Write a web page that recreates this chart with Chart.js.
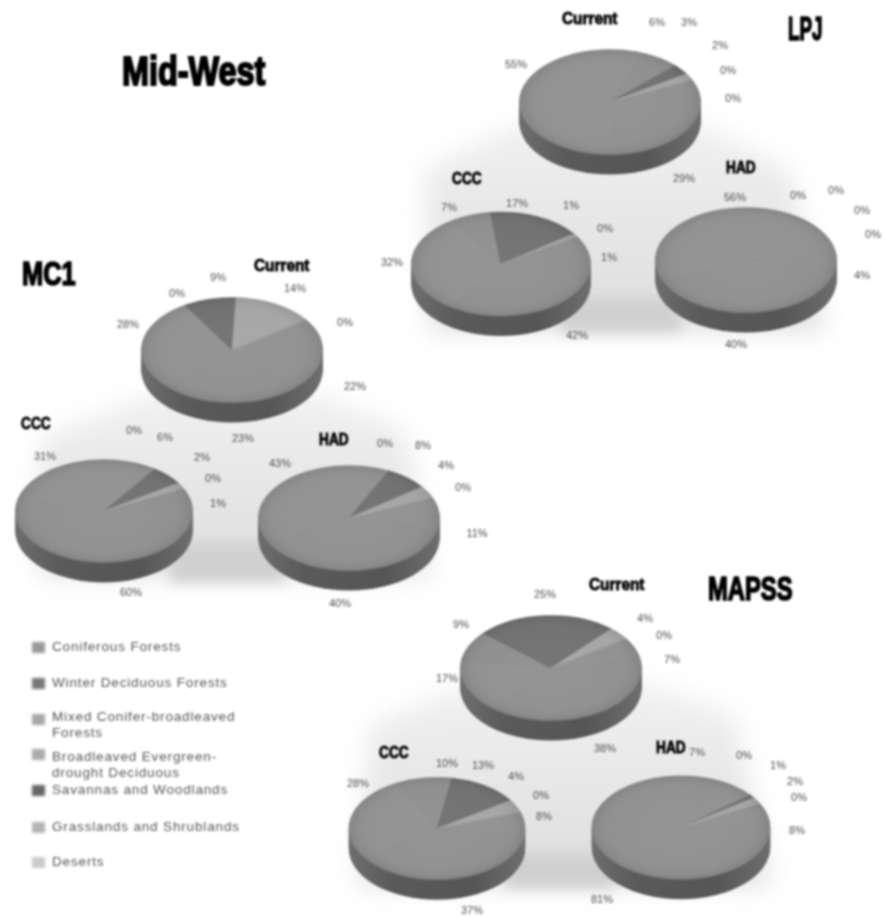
<!DOCTYPE html>
<html><head><meta charset="utf-8">
<script src="https://cdn.jsdelivr.net/npm/chart.js@4"></script>
<style>
html,body{margin:0;padding:0;background:#fff;overflow:hidden}
#stage{position:absolute;left:0;top:0;width:896px;height:917px;filter:blur(1.05px);overflow:hidden;background:#fff}
canvas{position:absolute;left:0;top:0}
.blob{position:absolute;left:0;top:0;width:896px;height:917px;filter:blur(13px)}
.blob div{position:absolute;inset:0}
.t{position:absolute;white-space:nowrap;font-family:"Liberation Sans",sans-serif;font-weight:700;color:#000;-webkit-text-stroke:.05em #000;transform-origin:0 0}
.p{position:absolute;white-space:nowrap;font:11px "Liberation Sans",sans-serif;color:#4f4f4f;transform:translate(-50%,-50%)}
.lg{position:absolute;left:52px;font:13.5px/16px "Liberation Sans",sans-serif;letter-spacing:.85px;color:#555;white-space:nowrap}
.sw{position:absolute;left:32px;width:13px;height:11px;filter:blur(1px)}
</style></head><body>
<div id="stage"></div>
<script>
const categories=["Coniferous Forests","Winter Deciduous Forests","Mixed Conifer-broadleaved Forests","Broadleaved Evergreen-drought Deciduous","Savannas and Woodlands","Grasslands and Shrublands","Deserts"];
const lpjCurrent=[0,29,55,6,3,2,0];
const lpjCCC=[1,42,32,7,17,1,0];
const lpjHAD=[4,40,56,0,0,0,0];
const mc1Current=[22,23,28,0,9,14,0];
const mc1CCC=[1,60,31,0,6,2,0];
const mc1HAD=[11,40,43,0,8,4,0];
const mapssCurrent=[7,38,17,9,25,4,0];
const mapssCCC=[8,37,28,10,13,4,0];
const mapssHAD=[8,81,7,0,1,2,0];

const sliceColors=["#8f8f8f","#8e8e8e","#8f8f8f","#8d8d8d","#6e6e6e","#a4a4a4","#c4c4c4"];
const swatchColors=["#999999","#777777","#a8a8a8","#ababab","#666666","#b4b4b4","#cccccc"];

// layout: pie centre, radius and start angle; label anchors in series order
const pies=[
 {v:lpjCurrent,c:[610,102],r:91,rot:65,l:[[733,98],[684,178],[516,64],[657,22],[689,22],[720,45],[728,70]]},
 {v:lpjCCC,c:[501,264],r:90,rot:58,l:[[609,257],[577,335],[392,262],[449,207],[517,203],[571,205],[605,228]]},
 {v:lpjHAD,c:[746,260],r:91,rot:85,l:[[862,275],[736,344],[735,197],[798,195],[836,190],[862,210],[873,234]]},
 {v:mc1Current,c:[232,350],r:91,rot:55,l:[[355,386],[243,438],[128,324],[177,293],[218,277],[295,288],[345,322]]},
 {v:mc1CCC,c:[104,511],r:89,rot:64,l:[[218,503],[131,592],[45,456],[134,430],[165,437],[202,457],[213,478]]},
 {v:mc1HAD,c:[349,518],r:91,rot:67,l:[[477,533],[340,603],[280,463],[385,443],[423,445],[446,465],[463,487]]},
 {v:mapssCurrent,c:[551,668],r:91,rot:56,l:[[672,659],[605,748],[447,678],[461,624],[545,594],[645,618],[664,635]]},
 {v:mapssCCC,c:[437,829],r:89,rot:71,l:[[544,816],[472,910],[358,783],[447,763],[483,765],[516,776],[541,795]]},
 {v:mapssHAD,c:[681,829],r:91,rot:62,l:[[797,830],[602,899],[697,752],[744,755],[778,765],[795,781],[799,797]]}
];
const titles=[
 ["Mid-West",122,48,41,.79],["LPJ",788,10,33,.57],["MC1",22,255,33,.77],["MAPSS",708,570,33,.72],
 ["Current",562,9,16.5,.93],["CCC",452,169,16.5,.83],["HAD",726,158,16.5,.83],
 ["Current",254,256,16.5,.93],["CCC",21,414,16.5,.83],["HAD",319,430,16.5,.83],
 ["Current",589,575,16.5,.93],["CCC",379,743,16.5,.83],["HAD",656,738,16.5,.83]
];
const blobs=[
 {p:"610px 80px,790px 170px,825px 330px,430px 330px,425px 170px",y:[90,330]},
 {p:"232px 360px,405px 430px,430px 575px,40px 575px,40px 440px",y:[370,575]},
 {p:"551px 650px,735px 715px,770px 885px,360px 885px,370px 725px",y:[660,885]},
 {p:"560px 298px,680px 298px,680px 332px,560px 332px",c:"#d0d0d0"},
 {p:"170px 543px,285px 543px,285px 582px,170px 582px",c:"#d0d0d0"},
 {p:"505px 853px,615px 853px,615px 888px,505px 888px",c:"#d0d0d0"}
];
const legendRows=[[647,"Coniferous Forests"],[683,"Winter Deciduous Forests"],[709,"Mixed Conifer-broadleaved<br>Forests"],[749,"Broadleaved Evergreen-<br>drought Deciduous"],[790,"Savannas and Woodlands"],[827,"Grasslands and Shrublands"],[862,"Deserts"]];
const swatchY=[647,683,719,754,790,827,862];

const W=896,H=917,squash=0.58,depth=20;
const stage=document.getElementById('stage');

blobs.forEach((b,i)=>{
  const o=document.createElement('div');o.className='blob';
  if(b.c)o.style.filter='blur(6px)';
  const d=document.createElement('div');
  d.style.background=b.c?b.c:`linear-gradient(to bottom,#f3f3f3 ${b.y[0]}px,#dddddd ${b.y[1]}px)`;
  d.style.clipPath='polygon('+b.p+')';
  o.appendChild(d);stage.appendChild(o);
});

const tilt={
  id:'tilt',
  beforeDatasetsDraw(chart){
    const a=chart.getDatasetMeta(0).data[0],ctx=chart.ctx,r=a.outerRadius;
    const g=ctx.createLinearGradient(a.x-r,0,a.x+r,0);
    g.addColorStop(0,'#6e6e6e');g.addColorStop(.25,'#5a5a5a');g.addColorStop(.7,'#565656');g.addColorStop(1,'#6e6e6e');
    ctx.save();
    ctx.fillStyle=g;
    for(let d=depth;d>0;d--){ctx.beginPath();ctx.ellipse(a.x,a.y+d,r,r*squash,0,0,Math.PI*2);ctx.fill();}
    ctx.translate(a.x,a.y);ctx.scale(1,squash);ctx.translate(-a.x,-a.y);
  },
  afterDatasetsDraw(chart){
    const a=chart.getDatasetMeta(0).data[0],ctx=chart.ctx,r=a.outerRadius;
    const g=ctx.createRadialGradient(a.x,a.y,r*.3,a.x,a.y,r);
    g.addColorStop(0,'rgba(255,255,255,.05)');g.addColorStop(.7,'rgba(255,255,255,.03)');g.addColorStop(1,'rgba(0,0,0,.07)');
    ctx.fillStyle=g;ctx.beginPath();ctx.arc(a.x,a.y,r,0,Math.PI*2);ctx.fill();
    ctx.restore();
  }
};

pies.forEach(p=>{
  const cv=document.createElement('canvas');cv.width=W;cv.height=H;cv.style.width=W+'px';cv.style.height=H+'px';stage.appendChild(cv);
  const [cx,cy]=p.c;
  new Chart(cv,{type:'pie',data:{labels:categories,datasets:[{data:p.v,backgroundColor:sliceColors,borderColor:sliceColors,borderWidth:.6}]},
    options:{responsive:false,animation:false,events:[],rotation:p.rot,
      layout:{padding:{left:cx-p.r,right:W-cx-p.r,top:cy-p.r,bottom:H-cy-p.r}},
      plugins:{legend:{display:false},tooltip:{enabled:false},title:{display:false}}},
    plugins:[tilt]});
  p.l.forEach((q,i)=>{
    const s=document.createElement('span');s.className='p';s.textContent=p.v[i]+'%';s.style.left=q[0]+'px';s.style.top=q[1]+'px';stage.appendChild(s);
  });
});

titles.forEach(t=>{
  const s=document.createElement('span');s.className='t';s.textContent=t[0];s.style.left=t[1]+'px';s.style.top=t[2]+'px';s.style.fontSize=t[3]+'px';s.style.transform='scaleX('+t[4]+')';stage.appendChild(s);
});
legendRows.forEach((r,i)=>{
  const s=document.createElement('div');s.className='lg';s.innerHTML=r[1];s.style.top=(r[1].includes('<br>')?r[0]:r[0]-8)+'px';stage.appendChild(s);
  const w=document.createElement('div');w.className='sw';w.style.background=swatchColors[i];w.style.top=(swatchY[i]-5)+'px';stage.appendChild(w);
});
</script></body></html>
